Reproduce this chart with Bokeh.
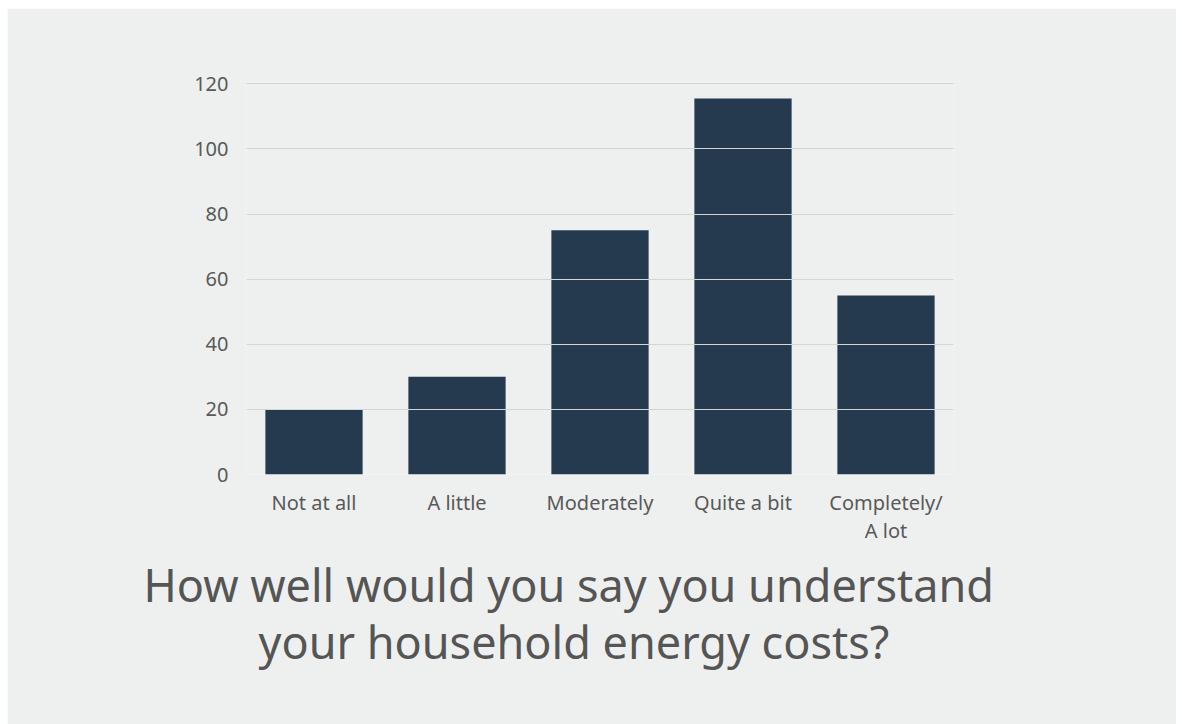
from bokeh.plotting import figure
from bokeh.models import FactorRange, Range1d, FixedTicker, Title
from bokeh.embed import file_html
from bokeh.resources import INLINE

categories = ["Not at all", "A little", "Moderately", "Quite a bit", "Completely/\nA lot"]
counts = [20, 30, 75, 115.5, 55]
y_ticks = [0, 20, 40, 60, 80, 100, 120]
title_lines = ["How well would you say you understand", "your household energy costs?"]

PANEL = "#eef0ef"
BAR = "#253a4f"
TEXT = "#595959"
FONT = "Noto Sans"

p = figure(
    x_range=FactorRange(*categories, range_padding=-0.0112),
    y_range=Range1d(0, 120.4),
    width=1169, height=716,
    output_backend="svg", toolbar_location=None,
    min_border_left=239, min_border_right=223,
    min_border_top=74, min_border_bottom=250,
    background_fill_color=PANEL, border_fill_color=PANEL,
    outline_line_color=None,
)
p.margin = (8, 6, 0, 7)

p.vbar(x=categories, top=counts, width=0.68, color=BAR, line_color=None)

p.xgrid.visible = False
p.ygrid.grid_line_color = "#d3d5d4"
p.ygrid.grid_line_width = 1
p.ygrid.level = "overlay"

p.yaxis.ticker = FixedTicker(ticks=y_ticks)
for ax in (p.xaxis[0], p.yaxis[0]):
    ax.axis_line_color = None
    ax.major_tick_line_color = None
    ax.minor_tick_line_color = None
    ax.major_tick_out = 0
    ax.major_tick_in = 0
    ax.major_label_text_font = FONT
    ax.major_label_text_font_size = "20px"
    ax.major_label_text_color = TEXT
p.yaxis.major_label_standoff = 18
p.xaxis.major_label_standoff = 14
p.xaxis.major_label_text_line_height = 1.05

offsets = [-103, 12]
standoffs = [11, -24]
for line, off, so in zip(title_lines, offsets, standoffs):
    p.add_layout(Title(
        text=line, align="left", offset=off,
        text_font=FONT, text_font_size="45px", text_font_style="normal",
        text_color="#555555", standoff=so,
    ), "below")

open("out.html", "w").write(file_html(p, INLINE))
